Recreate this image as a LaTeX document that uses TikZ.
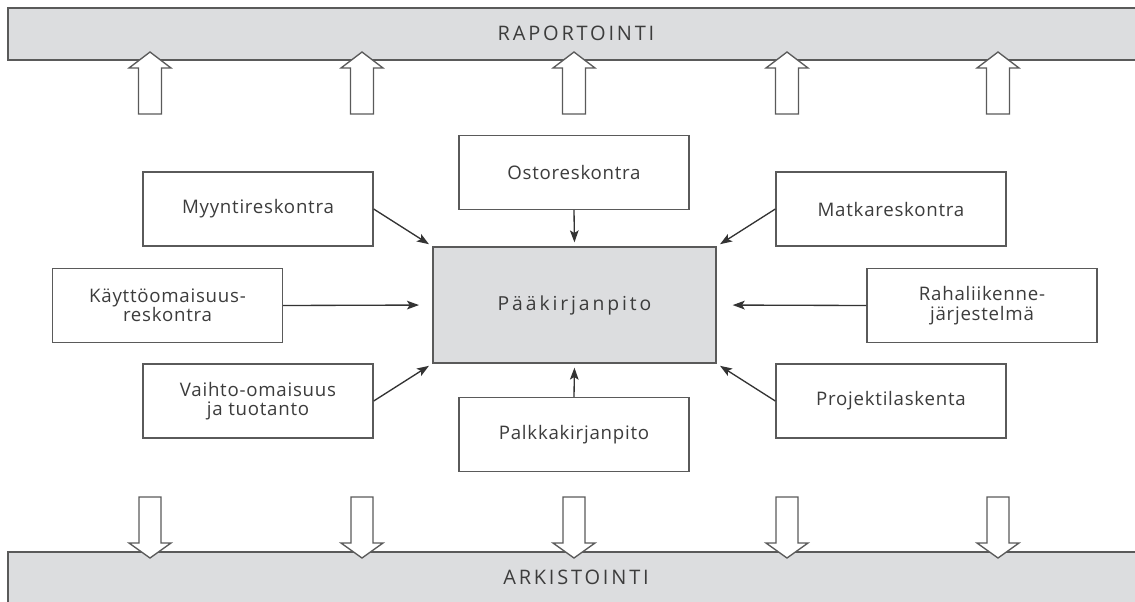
\documentclass[tikz,border=0pt]{standalone}
\usepackage{fontspec}
\setmainfont{Open Sans}
\usetikzlibrary{arrows.meta}

\definecolor{barfill}{HTML}{DCDDDF}
\definecolor{linegray}{HTML}{5A5A5A}
\definecolor{txtgray}{HTML}{3C3C3C}

\tikzset{every picture/.style={line width=0.75pt}}
\tikzset{
  modul/.style={draw=linegray, fill=white, line width=1pt, minimum width=172.5pt, minimum height=55.5pt, inner sep=0.75pt, align=center, text=txtgray, font=\fontsize{14}{14.5}\selectfont\addfontfeatures{LetterSpace=4}},
  virta/.style={draw=black!80, line width=1pt, -{Stealth[length=9pt,width=6.5pt,inset=2pt]}},
  isonuoli/.style={draw=linegray, fill=white, line width=1pt},
  palkki/.style={draw=linegray, fill=barfill, line width=1pt},
  otsikko/.style={inner sep=0.75pt, text=txtgray, font=\fontsize{15}{17}\selectfont\addfontfeatures{LetterSpace=14}},
}

\begin{document}
\begin{tikzpicture}[x=0.75pt,y=0.75pt,yscale=-1,xscale=1]
%set diagram left start at 0, and has height of 601
\useasboundingbox (0,0) rectangle (1135,601);

%Shape: Rectangle [top bar]
\draw [palkki] (8,8) rectangle (1145,60) ;
%Shape: Rectangle [bottom bar]
\draw [palkki] (8,552) rectangle (1145,610) ;

%Block Arrows
\foreach \x in {150,362,574,787,998} {
  \draw [isonuoli] (\x-11.5,114) -- (\x-11.5,68) -- (\x-21,68) -- (\x,52) -- (\x+21,68) -- (\x+11.5,68) -- (\x+11.5,114) -- cycle ;
  \draw [isonuoli] (\x-11,497) -- (\x-11,543) -- (\x-21,543) -- (\x,558) -- (\x+21,543) -- (\x+11,543) -- (\x+11,497) -- cycle ;
}

% Text Node
\node [otsikko] (rap) at (576,33) {RAPORTOINTI};
% Text Node
\node [otsikko] (ark) at (576,577) {ARKISTOINTI};

% Boxes
\node [modul, fill=barfill, minimum width=212.25pt, minimum height=87pt, font=\fontsize{14.5}{17}\selectfont\addfontfeatures{LetterSpace=15}] (paa) at (574.5,305) {Pääkirjanpito};
\node [modul] (myynti) at (258,209) {Myyntireskontra};
\node [modul] (kaytto) at (167.5,305.5) {Käyttöomaisuus-\\reskontra};
\node [modul] (vaihto) at (258,401) {Vaihto-omaisuus\\ja tuotanto};
\node [modul] (osto) at (574,172.5) {Ostoreskontra};
\node [modul] (palkka) at (574,434.5) {Palkkakirjanpito};
\node [modul] (matka) at (891,209) {Matkareskontra};
\node [modul] (raha) at (982,305.5) {Rahaliikenne-\\järjestelmä};
\node [modul] (projekti) at (891,401) {Projektilaskenta};

%Straight Lines
\draw [virta, shorten >=3pt] (myynti.east) -- (paa.north west) ;
\draw [virta, shorten >=10pt] (kaytto.east) -- (paa.west) ;
\draw [virta, shorten >=3pt] (vaihto.east) -- (paa.south west) ;
\draw [virta, shorten >=3pt] (osto.south) -- (paa.north) ;
\draw [virta, shorten >=3pt] (palkka.north) -- (paa.south) ;
\draw [virta, shorten >=3pt] (matka.west) -- (paa.north east) ;
\draw [virta, shorten >=12pt] (raha.west) -- (paa.east) ;
\draw [virta, shorten >=3pt] (projekti.west) -- (paa.south east) ;
\end{tikzpicture}
\end{document}
